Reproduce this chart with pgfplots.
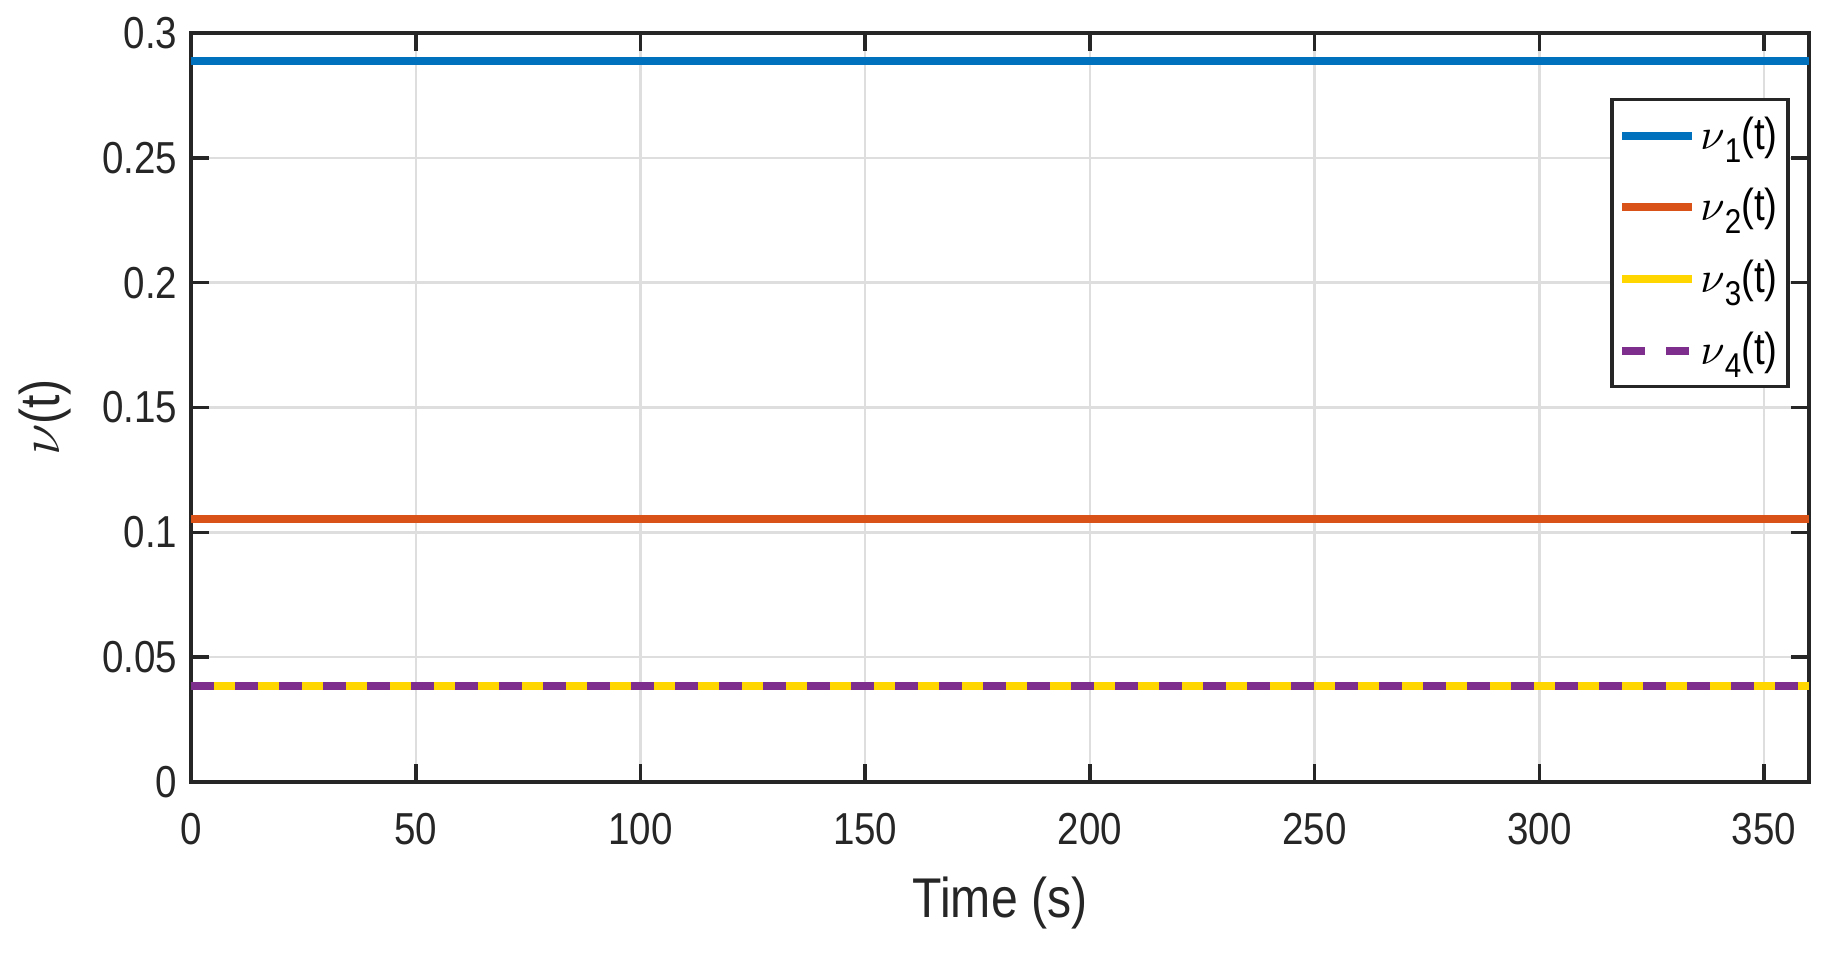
\documentclass[border=0pt]{standalone}
\usepackage{fontspec}
\setmainfont{Liberation Sans}[FakeStretch=0.86]
\usepackage{pgfplots}
\pgfplotsset{compat=1.18}
\definecolor{c1}{rgb}{0,0.447,0.741}
\definecolor{c2}{rgb}{0.85,0.325,0.098}
\definecolor{c3}{rgb}{1.0,0.84,0.0}
\definecolor{c4}{rgb}{0.494,0.184,0.556}
\definecolor{axc}{rgb}{0.15,0.15,0.15}
\newcommand{\nusub}[1]{$\nu$\raisebox{-0.55ex}{\fontsize{8.6}{9}\selectfont #1}(t)}
\begin{document}
\begin{tikzpicture}
\begin{axis}[
  scale only axis, width=404.5pt, height=187.25pt,
  xmin=0, xmax=360, ymin=0, ymax=0.3,
  xtick={0,50,100,150,200,250,300,350},
  ytick={0,0.05,0.1,0.15,0.2,0.25,0.3},
  scaled y ticks=false,
  yticklabel style={/pgf/number format/fixed, /pgf/number format/precision=2, anchor=east, inner sep=0pt, xshift=-3.25pt},
  xticklabel style={anchor=north, inner sep=0pt, yshift=-7.5pt},
  /pgf/number format/assume math mode=true,
  tick align=inside, tick pos=both, major tick length=4.5pt,
  grid=major, major grid style={color=black!13, line width=0.6pt},
  axis line style={color=axc, line width=0.9pt},
  tick style={color=axc, line width=0.9pt},
  tick label style={font=\fontsize{11.2}{13}\selectfont, text=axc},
  xlabel={Time (s)}, ylabel={$\nu$(t)},
  label style={font=\fontsize{14}{16}\selectfont, text=axc},
  x label style={at={(axis description cs:0.5,0)}, anchor=center, yshift=-30.25pt},
  y label style={at={(axis description cs:0,0.5)}, anchor=center, rotate=0, yshift=36.5pt, xshift=-2.5pt},
  legend style={at={(rel axis cs:0.988,0.913)}, anchor=north east,
    draw=axc, line width=0.8pt, font=\fontsize{11.2}{13}\selectfont,
    row sep=4.3pt, inner xsep=1.6pt, inner ysep=2.2pt,
    nodes={inner xsep=1pt}},
  legend cell align=left,
  legend image code/.code={\draw[#1] (0pt,0pt) -- (17.5pt,0pt);},
]
\addplot[c1, line width=2pt] coordinates {(0,0.2888) (360,0.2888)};
\addlegendentry{\nusub{1}}
\addplot[c2, line width=2pt] coordinates {(0,0.1053) (360,0.1053)};
\addlegendentry{\nusub{2}}
\addplot[c3, line width=2pt] coordinates {(0,0.0385) (360,0.0385)};
\addlegendentry{\nusub{3}}
\addplot[c4, line width=2pt, dash pattern=on 5.75pt off 5.25pt] coordinates {(0,0.0385) (360,0.0385)};
\addlegendentry{\nusub{4}}
\coordinate (SW) at (rel axis cs:0,0);
\coordinate (NE) at (rel axis cs:1,1);
\end{axis}
\pgfresetboundingbox
\path ([shift={(-47.75pt,-42.75pt)}]SW) rectangle ([shift={(7.25pt,8.25pt)}]NE);
\end{tikzpicture}
\end{document}
